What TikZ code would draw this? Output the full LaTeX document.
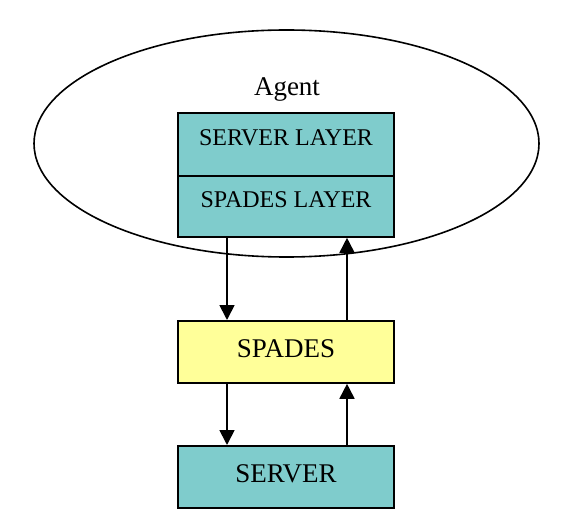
\documentclass[tikz,border=0pt]{standalone}
\usepackage{fontspec}
\setmainfont{Liberation Serif}
\usetikzlibrary{arrows.meta,shapes.geometric}
\definecolor{tealbox}{HTML}{7FCCCC}
\definecolor{yelbox}{HTML}{FFFF99}
\begin{document}
\begin{tikzpicture}[x=1pt,y=-1pt,
  box/.style={draw=black,line width=1.8pt,minimum width=216pt,inner sep=0pt,anchor=north},
  layertext/.style={font=\fontsize{24}{28}\selectfont,text height=16pt,text depth=13pt},
  bigtext/.style={font=\fontsize{27}{30}\selectfont,text height=18pt,text depth=6pt},
  arr/.style={line width=1.7pt,-{Triangle[length=15pt,width=15pt]}}]
\useasboundingbox (0,0) rectangle (569,526);
\node[draw=black,line width=1.6pt,ellipse,minimum width=505pt,minimum height=227pt,inner sep=0pt] (agent) at (286.5,143.5) {};
\node[font=\fontsize{27}{30}\selectfont,anchor=base] (agentlbl) at (287,96) {Agent};
\node[box,fill=tealbox,minimum height=63pt,layertext] (servl) at (286,112) {SERVER LAYER};
\node[box,fill=tealbox,minimum height=61pt,layertext] (spadl) at (286,175) {SPADES LAYER};
\node[box,fill=yelbox,minimum height=62pt,bigtext] (spades) at (286,320) {SPADES};
\node[box,fill=tealbox,minimum height=62pt,bigtext] (server) at (286,445) {SERVER};
\draw[arr] ([xshift=-59pt]spadl.south) -- ([xshift=-59pt]spades.north);
\draw[arr] ([xshift=61pt]spades.north) -- ([xshift=61pt]spadl.south);
\draw[arr] ([xshift=-59pt]spades.south) -- ([xshift=-59pt]server.north);
\draw[arr] ([xshift=61pt]server.north) -- ([xshift=61pt]spades.south);
\end{tikzpicture}
\end{document}
